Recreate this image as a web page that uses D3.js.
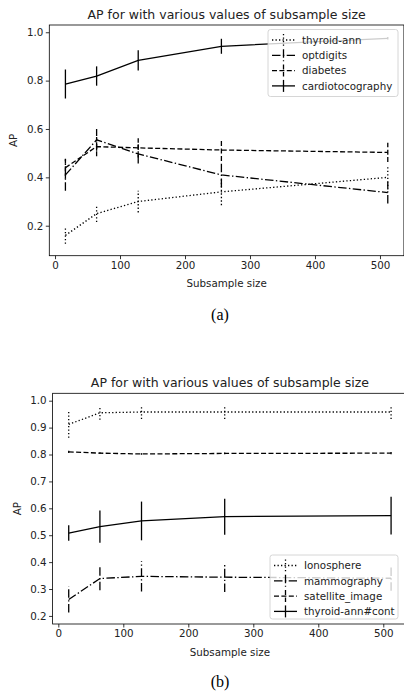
<!DOCTYPE html>
<html>
<head>
<meta charset="utf-8">
<script src="https://cdn.jsdelivr.net/npm/d3@7"></script>
<style>
  body { margin: 0; background: #fff; }
  svg { display: block; }
</style>
</head>
<body>
<svg id="chart" width="404" height="693"></svg>
<script>
// subsample sizes on the x axis
const sizes = [16, 64, 128, 256, 512];

// panel (a)
const thyroidAnn = [0.16, 0.25, 0.30, 0.34, 0.40];
const thyroidAnnErr = [0.035, 0.035, 0.045, 0.055, 0.05];
const optdigits = [0.41, 0.555, 0.497, 0.41, 0.337];
const optdigitsErr = [0.065, 0.045, 0.04, 0.05, 0.045];
const diabetes = [0.44, 0.527, 0.522, 0.513, 0.503];
const diabetesErr = [0.045, 0.04, 0.04, 0.045, 0.04];
const cardio = [0.786, 0.819, 0.884, 0.942, 0.975];
const cardioErr = [0.06, 0.04, 0.042, 0.031, 0.005];

// panel (b)
const ionosphere = [0.912, 0.955, 0.958, 0.958, 0.958];
const ionosphereErr = [0.05, 0.026, 0.026, 0.026, 0.026];
const mammography = [0.261, 0.339, 0.347, 0.344, 0.34];
const mammographyErr = [0.048, 0.044, 0.056, 0.055, 0.046];
const satellite = [0.81, 0.805, 0.802, 0.804, 0.805];
const satelliteErr = [0.004, 0.003, 0.003, 0.003, 0.004];
const thyroidCont = [0.508, 0.532, 0.553, 0.569, 0.573];
const thyroidContErr = [0.029, 0.06, 0.072, 0.067, 0.07];

const xTicks = [0, 100, 200, 300, 400, 500];
const yTicksA = [0.2, 0.4, 0.6, 0.8, 1.0];
const yTicksB = [0.2, 0.3, 0.4, 0.5, 0.6, 0.7, 0.8, 0.9, 1.0];
const titleText = "AP for with various values of subsample size";

const dashes = {
    dotted: "1.3,2.2",
    dashdot: "8.5,2.4,1.4,2.4",
    dashed: "5,2.4",
    solid: null
};

const panels = [
    {
        caption: "(a)",
        xRange: [49.3, 403.9], yDomain: [0.076, 1.030], yRange: [255.7, 25],
        yTicks: yTicksA, titleY: 19, xLabelY: 287, captionY: 320,
        legend: {x: 268, y: 29.5, w: 130, h: 67},
        series: [
            {name: "thyroid-ann", values: thyroidAnn, err: thyroidAnnErr, style: "dotted"},
            {name: "optdigits", values: optdigits, err: optdigitsErr, style: "dashdot"},
            {name: "diabetes", values: diabetes, err: diabetesErr, style: "dashed"},
            {name: "cardiotocography", values: cardio, err: cardioErr, style: "solid"}
        ]
    },
    {
        caption: "(b)",
        xRange: [52.6, 407.2], yDomain: [0.170, 1.0275], yRange: [624, 393.3],
        yTicks: yTicksB, titleY: 387, xLabelY: 655.5, captionY: 687,
        legend: {x: 270, y: 555, w: 128, h: 64},
        series: [
            {name: "Ionosphere", values: ionosphere, err: ionosphereErr, style: "dotted"},
            {name: "mammography", values: mammography, err: mammographyErr, style: "dashdot"},
            {name: "satellite_image", values: satellite, err: satelliteErr, style: "dashed"},
            {name: "thyroid-ann#cont", values: thyroidCont, err: thyroidContErr, style: "solid"}
        ]
    }
];

const svg = d3.select("#chart");
const font = "DejaVu Sans, sans-serif";
const fs = 10.3;
const lw = 1.3;

function drawPanel(p) {
    const g = svg.append("g");
    const x = d3.scaleLinear().domain([-8.8, 536.8]).range(p.xRange);
    const y = d3.scaleLinear().domain(p.yDomain).range(p.yRange);
    const [left, right] = p.xRange;
    const [bottom, top] = p.yRange;

    const line = d3.line()
        .x(d => x(d[0]))
        .y(d => y(d[1]));

    p.series.forEach(s => {
        const pts = sizes.map((v, i) => [v, s.values[i], s.err[i]]);
        g.append("path")
            .datum(pts)
            .attr("fill", "none")
            .attr("stroke", "#000")
            .attr("stroke-width", lw)
            .attr("stroke-dasharray", dashes[s.style])
            .attr("d", line);
        g.append("g")
            .selectAll("line")
            .data(pts)
            .join("line")
            .attr("x1", d => x(d[0]))
            .attr("x2", d => x(d[0]))
            .attr("y1", d => y(d[1] - d[2]))
            .attr("y2", d => y(d[1] + d[2]))
            .attr("stroke", "#000")
            .attr("stroke-width", lw)
            .attr("stroke-dasharray", dashes[s.style]);
    });

    // axes
    const xAxis = g.append("g")
        .attr("transform", `translate(0,${bottom})`)
        .call(d3.axisBottom(x).tickValues(xTicks).tickSize(3.5).tickPadding(2.5).tickFormat(d3.format("d")));
    const yAxis = g.append("g")
        .attr("transform", `translate(${left},0)`)
        .call(d3.axisLeft(y).tickValues(p.yTicks).tickSize(3.5).tickPadding(2.5).tickFormat(d3.format(".1f")));
    [xAxis, yAxis].forEach(a => {
        a.select(".domain").remove();
        a.selectAll(".tick line").attr("stroke", "#000").attr("stroke-width", 0.8);
        a.selectAll(".tick text").attr("font-family", font).attr("font-size", fs).attr("fill", "#222");
    });

    // spines
    g.append("rect")
        .attr("x", left).attr("y", top)
        .attr("width", right - left).attr("height", bottom - top)
        .attr("fill", "none")
        .attr("stroke", "#000")
        .attr("stroke-width", 0.8);

    g.append("text")
        .attr("x", (left + right) / 2).attr("y", p.titleY)
        .attr("text-anchor", "middle")
        .attr("font-family", font).attr("font-size", 12.5)
        .attr("fill", "#222")
        .text(titleText);

    g.append("text")
        .attr("x", (left + right) / 2).attr("y", p.xLabelY)
        .attr("text-anchor", "middle")
        .attr("font-family", font).attr("font-size", fs)
        .attr("fill", "#222")
        .text("Subsample size");

    g.append("text")
        .attr("transform", `translate(${left - 32},${(top + bottom) / 2}) rotate(-90)`)
        .attr("text-anchor", "middle")
        .attr("font-family", font).attr("font-size", fs)
        .attr("fill", "#222")
        .text("AP");

    g.append("text")
        .attr("x", 220).attr("y", p.captionY)
        .attr("text-anchor", "middle")
        .attr("font-family", "Liberation Serif, Times New Roman, serif")
        .attr("font-size", 16)
        .attr("fill", "#000")
        .text(p.caption);

    // legend
    const L = p.legend;
    const lg = g.append("g").attr("transform", `translate(${L.x},${L.y})`);
    lg.append("rect")
        .attr("width", L.w).attr("height", L.h)
        .attr("rx", 2.5)
        .attr("fill", "#fff").attr("fill-opacity", 0.8)
        .attr("stroke", "#ccc").attr("stroke-width", 0.8);
    const rows = lg.selectAll("g.row")
        .data(p.series)
        .join("g")
        .attr("class", "row")
        .attr("transform", (d, i) => `translate(0,${10.5 + i * 15.3})`);
    rows.append("line")
        .attr("x1", 4).attr("x2", 27).attr("y1", 0).attr("y2", 0)
        .attr("stroke", "#000").attr("stroke-width", lw)
        .attr("stroke-dasharray", d => dashes[d.style]);
    rows.append("line")
        .attr("x1", 15.5).attr("x2", 15.5).attr("y1", -6).attr("y2", 6)
        .attr("stroke", "#000").attr("stroke-width", lw)
        .attr("stroke-dasharray", d => dashes[d.style]);
    rows.append("text")
        .attr("x", 34).attr("y", 3.7)
        .attr("font-family", font).attr("font-size", fs)
        .attr("fill", "#222")
        .text(d => d.name);
}

panels.forEach(drawPanel);
</script>
</body>
</html>
